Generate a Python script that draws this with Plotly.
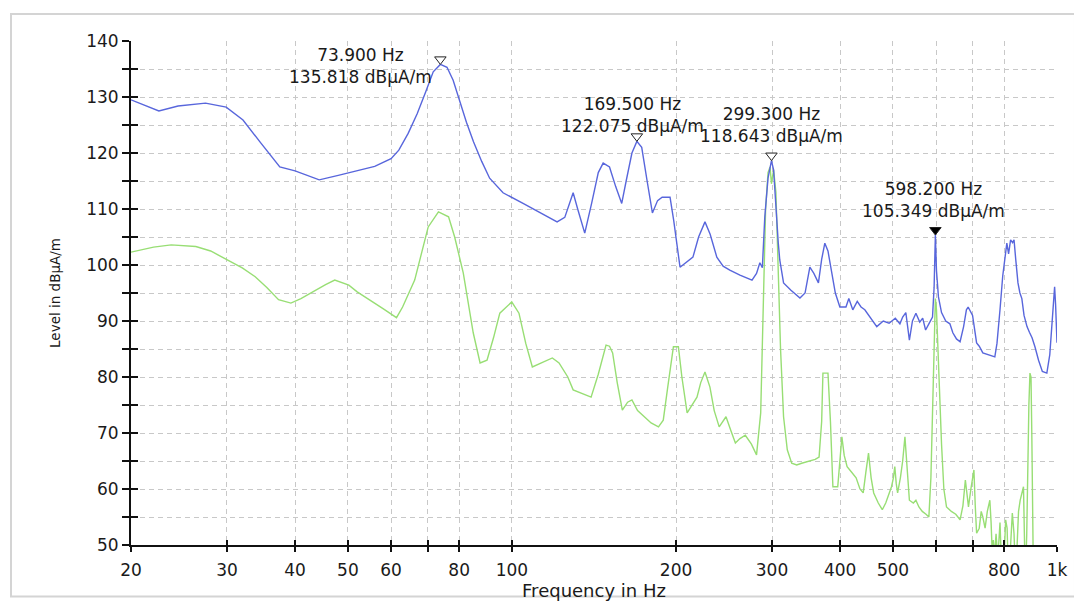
import math
import plotly.graph_objects as go

# ---------------- data ----------------
freq_blue = [20, 22.5, 24.4, 27.4, 29.9, 32.1, 34.6, 37.5, 40, 44.3, 48, 52, 56, 60, 62, 64.5, 67, 69.5, 71.7,
             73.9, 76, 78, 80, 82.5, 85, 88, 91, 96.3, 104.8, 112, 121, 125, 129.5, 132, 136, 140, 144, 147,
             151, 155, 159, 162, 166, 169.5, 173, 177, 181, 185, 188.6, 195, 198, 203.4, 209, 214.8, 220, 226,
             231, 237.6, 244, 251, 262, 275.7, 281, 285, 288, 291, 295, 299.3, 302, 305, 308, 310, 315, 325,
             337.6, 345, 352, 358, 365, 370, 375, 380, 385, 392, 399.6, 410, 415, 422, 430, 437, 444, 455, 467,
             480, 492, 505, 515, 521, 528, 536, 543, 551, 560, 567, 574, 582, 591, 595, 598.2, 601, 606, 614,
             625, 636, 644, 654, 664, 674, 682, 687, 692, 700, 712, 720, 731, 745, 757, 769, 776, 781, 786, 795,
             801, 809, 815, 822, 829, 834, 840, 848, 855, 862, 870, 881, 890, 900, 911, 925, 940, 958, 970, 976,
             982, 986, 990, 994, 1000]
level_blue = [129.5, 127.5, 128.4, 128.9, 128.2, 125.9, 121.8, 117.5, 116.8, 115.2, 116.0, 116.8, 117.6, 119.0,
              120.5, 123.5, 127.0, 131.0, 134.5, 135.818, 135.3, 133.0, 129.5, 125.5, 122.0, 118.5, 115.5, 112.9,
              111.0, 109.5, 107.7, 108.5, 112.9, 110.0, 105.7, 111.0, 116.5, 118.2, 117.5, 114.0, 111.0, 115.0,
              120.0, 122.075, 121.0, 115.0, 109.3, 111.5, 112.1, 112.1, 108.0, 99.6, 100.5, 101.4, 105.0, 107.7,
              105.5, 101.4, 99.8, 99.1, 98.2, 97.3, 98.5, 100.4, 99.5, 108.6, 115.5, 118.643, 117.0, 110.0, 104.0,
              100.9, 96.8, 95.5, 94.1, 95.0, 99.6, 98.5, 96.8, 101.0, 103.9, 102.5, 99.6, 95.0, 92.5, 92.5, 94.0,
              92.0, 93.5, 92.5, 92.0, 90.5, 89.0, 90.0, 89.6, 90.5, 89.5, 90.7, 91.5, 86.6, 90.0, 91.4, 89.8, 90.5,
              88.4, 89.5, 90.7, 96.0, 105.349, 99.0, 94.3, 91.5, 90.0, 89.5, 87.9, 86.8, 86.3, 89.0, 92.0, 92.5,
              92.0, 91.0, 86.1, 85.5, 84.3, 84.0, 83.8, 83.6, 86.0, 90.0, 92.0, 98.0, 101.0, 103.9, 102.0, 104.5,
              104.0, 104.5, 101.0, 96.8, 95.0, 94.0, 91.0, 89.0, 88.0, 87.0, 85.4, 83.0, 81.0, 80.7, 84.0, 88.0,
              90.7, 95.0, 96.1, 93.0, 86.1]

freq_green = [20, 22, 23.7, 26.3, 28, 30.1, 32, 33.8, 35.5, 37.3, 39.3, 41, 43.5, 45.5, 47.3, 50.2, 52, 54.6, 58,
              61.4, 63, 66.3, 68, 70.2, 73.3, 76.5, 78.5, 81.4, 84.9, 87.4, 90, 92.5, 95, 99.9, 103, 106, 109,
              114, 118.6, 122, 126.6, 129.5, 135, 139.7, 144, 148.8, 151, 153, 156, 159.4, 163, 166, 170, 174.8,
              180, 185.7, 189.5, 193, 197.8, 202, 205, 209.6, 214, 218.5, 222, 226, 230.8, 235, 240, 247, 252,
              257, 262, 268, 275, 281, 286, 289, 292, 295, 297.5, 299.3, 302, 305, 308, 311, 315, 320, 326, 333,
              340, 350, 360, 366, 370, 372, 380, 384, 388, 396, 400, 403, 407, 412, 420, 428, 435, 441, 446, 451,
              456, 461, 470, 478, 485, 492, 497, 501, 504, 507, 510, 516, 521, 526, 530, 536, 545, 551, 558, 566,
              575, 582, 587, 590, 594, 598.2, 601, 605, 609, 614, 620, 627, 640, 652, 664, 672, 679, 683, 688,
              695, 699, 704, 708, 712, 720, 726, 731, 738, 745, 753, 757, 761, 764, 768, 773, 778, 782, 786, 790,
              795, 800, 805, 810, 814, 820, 828, 834, 839, 845, 850, 856, 862, 868, 872, 876, 880, 884, 888, 892,
              896, 899, 902, 905, 915, 930, 1000]
level_green = [102.3, 103.2, 103.6, 103.3, 102.5, 100.9, 99.5, 97.9, 96.0, 93.8, 93.2, 94.0, 95.5, 96.5, 97.3,
               96.4, 95.2, 93.8, 92.2, 90.6, 92.5, 97.3, 101.5, 106.8, 109.5, 108.6, 105.0, 98.6, 87.9, 82.5,
               83.0, 87.0, 91.4, 93.4, 91.4, 86.0, 81.8, 82.6, 83.4, 82.5, 80.0, 77.7, 77.0, 76.4, 80.5, 85.7,
               85.5, 84.3, 79.0, 74.1, 75.5, 75.9, 74.0, 72.9, 71.8, 71.1, 72.3, 78.0, 85.4, 85.4, 80.0, 73.6,
               75.0, 76.4, 79.0, 80.9, 78.2, 74.0, 71.1, 72.9, 70.5, 68.2, 69.0, 69.6, 68.0, 66.1, 73.6, 95.0,
               110.0, 116.5, 117.5, 114.5, 117.0, 113.0, 100.0, 85.0, 72.9, 67.0, 64.6, 64.3, 64.6, 65.0, 65.3,
               65.7, 72.0, 80.7, 80.7, 72.0, 60.4, 60.4, 65.0, 69.3, 66.0, 64.0, 63.0, 62.0, 60.0, 59.3, 63.0,
               66.4, 62.0, 59.3, 57.5, 56.3, 57.5, 59.0, 60.4, 62.0, 64.0, 61.0, 59.3, 62.0, 65.0, 69.3, 64.0,
               58.0, 57.5, 58.0, 56.8, 56.0, 55.5, 55.0, 62.0, 70.0, 85.0, 94.0, 92.0, 84.0, 75.9, 68.0, 60.0,
               56.8, 56.0, 55.5, 54.5, 57.0, 61.6, 59.0, 56.8, 60.0, 62.0, 63.4, 57.0, 52.1, 53.0, 56.0, 55.0,
               53.0, 56.0, 58.0, 54.0, 48.0, 50.9, 48.0, 52.0, 48.0, 50.4, 54.0, 48.0, 45.0, 48.0, 54.5, 53.0,
               45.0, 48.0, 55.7, 52.0, 45.0, 50.0, 56.0, 58.0, 59.5, 60.4, 50.0, 45.0, 52.0, 65.0, 75.0, 80.7,
               80.0, 70.0, 50.0, 45.0, 45.0, 44.0, 44.0]

marker_freq = [73.9, 169.5, 299.3, 598.2]
marker_level = [135.818, 122.075, 118.643, 105.349]
marker_labels = [f"{f:.3f} Hz<br>{l:.3f} dBµA/m" for f, l in zip(marker_freq, marker_level)]

x_tick_vals = [20, 30, 40, 50, 60, 70, 80, 100, 200, 300, 400, 500, 600, 700, 800, 1000]
x_tick_text = ["20", "30", "40", "50", "60", "", "80", "100", "200", "300", "400", "500", "", "", "800", "1k"]
y_tick_vals = list(range(50, 141, 5))
y_tick_text = [str(v) if v % 10 == 0 else "" for v in y_tick_vals]

# ---------------- style ----------------
FONT = "DejaVu Sans"
BLUE = "#5866DC"
GREEN = "#98DE74"
GRID = "#C8C8C8"
xr = [math.log10(20), math.log10(1000)]
yr = [50, 140]

fig = go.Figure()
fig.add_trace(go.Scatter(x=freq_green, y=level_green, mode="lines",
                         line=dict(color=GREEN, width=1.4), showlegend=False, hoverinfo="skip"))
fig.add_trace(go.Scatter(x=freq_blue, y=level_blue, mode="lines",
                         line=dict(color=BLUE, width=1.4), showlegend=False, hoverinfo="skip"))

marker_fill = ["white", "white", "white", "black"]
fig.add_trace(go.Scatter(x=marker_freq, y=[l + 0.9 for l in marker_level], mode="markers",
                         xaxis="x2", yaxis="y2",
                         marker=dict(symbol="triangle-down", size=10, color=marker_fill,
                                     line=dict(color="#222222", width=1)),
                         showlegend=False, hoverinfo="skip"))

# annotations
shifts = [dict(xanchor="center", yanchor="middle", xshift=-80, yshift=-2),
          dict(xanchor="center", yanchor="bottom", xshift=-4, yshift=3),
          dict(xanchor="center", yanchor="bottom", xshift=0, yshift=13),
          dict(xanchor="center", yanchor="bottom", xshift=-2, yshift=12)]
for f, l, t, s in zip(marker_freq, marker_level, marker_labels, shifts):
    fig.add_annotation(x=math.log10(f), y=l, xref="x", yref="y", text=t, showarrow=False,
                       font=dict(family=FONT, size=17, color="#1a1a1a"), align="center", **s)

# outer frame
fig.add_shape(type="rect", xref="paper", yref="paper",
              x0=-0.1296, x1=1.0194, y0=-0.102, y1=1.0536,
              line=dict(color="#D4D4D4", width=2), fillcolor="rgba(0,0,0,0)", layer="below")

fig.update_layout(
    width=1074, height=593,
    margin=dict(l=123, r=25, t=33, b=56, autoexpand=False),
    paper_bgcolor="white", plot_bgcolor="white",
    font=dict(family=FONT, color="#1a1a1a"),
    xaxis=dict(type="log", range=xr, tickmode="array", tickvals=x_tick_vals, ticktext=x_tick_text,
               ticks="outside", ticklen=5, tickwidth=2, tickcolor="#111", ticklabelstandoff=4,
               showline=True, linecolor="#111", linewidth=2,
               showgrid=True, gridcolor=GRID, griddash="5px,4px", gridwidth=1, zeroline=False,
               tickfont=dict(family=FONT, size=17),
               title=dict(text="Frequency in Hz", font=dict(family=FONT, size=18), standoff=3),
               automargin=False),
    yaxis=dict(range=yr, tickmode="array", tickvals=y_tick_vals, ticktext=y_tick_text,
               ticks="outside", ticklen=7, tickwidth=2, tickcolor="#111",
               showline=True, linecolor="#111", linewidth=2,
               showgrid=True, gridcolor=GRID, griddash="5px,4px", gridwidth=1, zeroline=False,
               tickfont=dict(family=FONT, size=17),
               title=dict(text="Level in dBµA/m", font=dict(family=FONT, size=13.5), standoff=22),
               automargin=False),
    xaxis2=dict(type="log", range=xr, overlaying="x", anchor="y2", side="bottom",
                tickmode="array", tickvals=x_tick_vals, ticks="inside", ticklen=5, tickwidth=2,
                tickcolor="#111", showticklabels=False, showgrid=False, showline=False, zeroline=False),
    yaxis2=dict(range=yr, overlaying="y", anchor="x2", side="left",
                tickmode="array", tickvals=y_tick_vals, ticks="inside", ticklen=7, tickwidth=2,
                tickcolor="#111", showticklabels=False, showgrid=False, showline=False, zeroline=False),
)

fig.write_html("out.html")
